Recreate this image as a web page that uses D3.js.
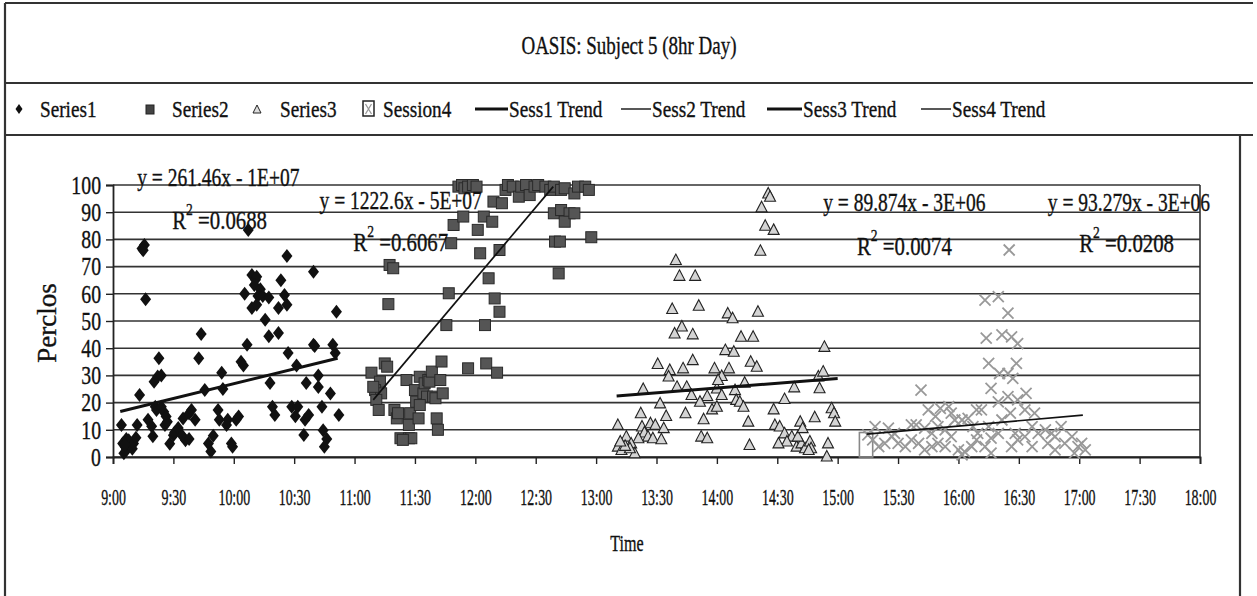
<!DOCTYPE html>
<html>
<head>
<meta charset="utf-8">
<script src="https://cdn.jsdelivr.net/npm/d3@7"></script>
<style>
body { margin: 0; background: #fff; }
svg text { font-family: "Liberation Serif", "Times New Roman", serif; fill: #111; stroke: #111; stroke-width: 0.35px; }
</style>
</head>
<body>
<script>
// values: [time in hours, perclos]
var session1 = [
  [9.07,11.8],[9.08,5],[9.10,3.8],[9.11,2.6],[9.09,1.4],[9.13,3.8],[9.11,6.6],[9.15,5],[9.13,6.2],
  [9.16,3],[9.17,5],[9.19,7.1],[9.10,4.5],[9.20,11.8],[9.22,22.8],[9.24,76.7],[9.26,77.9],[9.25,76],
  [9.27,58],[9.29,13.7],[9.32,11.3],[9.33,7.6],[9.34,27.7],[9.37,29.6],[9.40,30],[9.38,36.3],
  [9.35,18.5],[9.36,17.3],[9.40,18.5],[9.42,16.6],[9.43,11.8],[9.45,13],[9.44,14.9],[9.47,4.9],
  [9.50,8],[9.51,9],[9.54,10.7],[9.57,8],[9.60,6.2],[9.63,6.6],[9.58,14.2],[9.63,16],[9.68,13.7],
  [9.65,17.3],[9.73,45.2],[9.71,36.3],[9.76,24.6],[9.79,5],[9.81,2],[9.83,7.8],[9.87,17.3],[9.90,31],
  [9.91,25],[9.88,13.7],[9.94,11.8],[9.95,13.7],[9.98,5],[9.99,3.8],[10.02,13.7],[10.04,14.9],
  [10.06,35],[10.08,33.6],[10.11,41.3],[10.09,60],[10.12,83.5],[10.15,66.9],[10.18,65.2],[10.19,66.3],
  [10.17,63.2],[10.22,61.7],[10.20,59.2],[10.24,59.2],[10.29,58.6],[10.15,54.8],[10.19,56],[10.26,50.5],
  [10.29,44.4],[10.37,45.6],[10.30,27.2],[10.32,18.5],[10.34,15.4],[10.39,65],[10.44,73.9],[10.37,54.8],
  [10.42,59.6],[10.44,56],[10.45,38.2],[10.48,18.5],[10.51,15],[10.53,18.5],[10.52,33.6],[10.60,27.2],
  [10.66,41.3],[10.67,40.8],[10.66,68.1],[10.70,30],[10.70,25.7],[10.59,13.7],[10.62,15.4],[10.58,8.1],
  [10.73,18.5],[10.74,9.8],[10.77,6.6],[10.75,3.8],[10.80,23.3],[10.82,41.3],[10.84,38.2],[10.85,53.4],
  [10.87,15.4]
];
var session2 = [
  [11.14,31],[11.21,27.7],[11.17,24.6],[11.22,23.4],[11.18,21],[11.20,17.3],[11.155,25.8],[11.25,34.4],
  [11.27,33.2],[11.29,70.6],[11.32,69.4],[11.28,56.2],[11.33,17.3],[11.35,14.2],[11.36,16.1],[11.38,6.9],
  [11.45,6.9],[11.47,6.9],[11.40,6.3],[11.43,28.3],[11.45,11.8],[11.46,16.1],[11.50,24.6],[11.53,14.2],
  [11.51,20.3],[11.54,29.5],[11.57,23.4],[11.58,27.1],[11.60,22.2],[11.61,28.3],[11.62,27.7],[11.64,31.4],
  [11.65,22.2],[11.67,21.6],[11.71,28.3],[11.72,35.1],[11.73,23.4],[11.68,14.2],[11.69,10],[11.54,19.1],
  [11.76,48.5],[11.78,60.2],[11.80,78.6],[11.82,85.3],[11.90,88.4],[11.86,99.4],[11.89,100],[11.91,98.8],
  [11.94,99.4],[11.98,100],[12.01,99.4],[11.94,32.6],[12.02,83.5],[12.04,74.9],[12.07,88.4],[12.14,86.5],
  [12.15,93.9],[12.22,93.3],[12.20,76.1],[12.08,48.5],[12.09,34.4],[12.18,31],[12.11,65.7],[12.16,58.3],
  [12.20,53.4],[12.25,98.2],[12.27,100],[12.31,99.4],[12.36,95.7],[12.38,99.4],[12.42,100],[12.45,96.3],
  [12.49,99.4],[12.52,100],[12.58,99.4],[12.62,98.2],[12.65,99.4],[12.71,98.2],[12.74,98.8],[12.82,96.9],
  [12.85,99.4],[12.91,99.4],[12.94,98.2],[12.65,89.6],[12.71,90.8],[12.78,89.6],[12.74,86.5],[12.82,89.6],
  [12.66,79.2],[12.70,79.2],[12.69,67.5],[12.96,80.8]
];
var session3 = [
  [14.425,96.9],[14.44,95.7],[14.37,91.8],[14.40,85],[14.47,83.5],[14.36,75.8],[13.66,72.4],[13.69,66.6],
  [13.82,66.6],[13.63,54.4],[13.85,55.6],[14.09,52.8],[14.13,51],[14.34,53.4],[13.71,48],[13.65,45.4],
  [13.80,45.1],[14.20,44.2],[14.30,44.2],[14.07,39.3],[14.14,38.7],[14.89,40.5],[13.51,34.2],[13.61,32],
  [13.60,29.6],[13.72,32.6],[13.80,35.6],[13.98,32.6],[14.04,29.8],[14.10,32.6],[14.28,35],[14.33,33.2],
  [14.84,29.6],[14.88,31.4],[14.85,25.3],[13.39,25],[13.67,25.8],[13.75,25.8],[13.79,22.8],[13.92,22.4],
  [14.00,25.2],[14.04,22.8],[14.01,28.3],[14.15,24.6],[14.23,27.3],[13.86,20.3],[13.96,17.5],[14.00,18.5],
  [14.16,21],[14.19,20.3],[14.22,18.5],[14.64,25.6],[14.56,21.3],[14.47,17.5],[13.53,19.7],[13.37,16.1],
  [13.58,15.1],[13.74,16.1],[13.89,13.9],[14.26,13],[14.81,14.6],[14.95,17.9],[14.97,16.1],[14.98,13],
  [13.18,11.8],[13.38,11.2],[13.45,12.4],[13.49,11.8],[13.56,10.6],[13.40,9],[13.43,7.5],[13.47,6.9],
  [13.54,6.5],[13.35,6.9],[13.25,7.5],[13.29,5],[13.18,3.8],[13.21,2.6],[13.32,1.4],[13.28,3.2],
  [13.24,4.1],[13.20,5.7],[13.87,7.5],[13.92,6.9],[14.27,4.4],[14.48,11.8],[14.52,11.2],[14.56,8.7],
  [14.62,7.5],[14.58,5.7],[14.66,3.8],[14.70,5],[14.73,3.2],[14.67,7.5],[14.69,13],[14.77,5.7],
  [14.78,3.2],[14.71,10.6],[14.51,5],[14.92,5],[14.91,0.2],[14.76,2.6]
];
var session4 = [
  [16.42,76.1],[16.22,57.7],[16.33,59],[16.41,52.9],[16.23,43.7],[16.36,44.9],[16.44,44.2],[16.49,41.7],
  [16.25,34.4],[16.34,30.7],[16.41,30.7],[16.48,34.4],[16.45,28.9],[16.27,25.2],[16.56,23.4],[16.33,20.3],
  [15.69,24.6],[15.75,17.3],[15.85,17.9],[15.92,18.5],[15.94,16.1],[15.81,14.9],[15.97,13.6],[16.15,17.3],
  [16.19,17.3],[16.41,22.2],[16.49,21],[16.55,17.3],[16.63,16.1],[15.65,11.8],[15.72,10.6],[15.78,8.7],
  [15.83,11.2],[15.89,10],[16.03,13.6],[16.08,14.2],[16.12,11.2],[16.16,8.7],[16.25,11.2],[16.36,13.6],
  [16.43,16.1],[15.25,8.1],[15.29,6.3],[15.34,3.8],[15.39,5],[15.45,7.5],[15.50,5],[15.56,3.8],
  [15.61,6.3],[15.67,5],[15.72,2.6],[15.78,3.8],[15.83,5],[15.89,3.8],[15.94,7.5],[16.00,2.6],
  [16.03,0.8],[16.05,2],[16.11,3.8],[16.15,6.3],[16.22,3.8],[16.27,6.9],[16.33,8.7],[16.47,8.7],
  [16.49,6.3],[16.55,7.5],[16.61,11.2],[16.66,8.7],[16.72,10],[16.77,8.7],[16.80,7.5],[16.88,5],
  [16.94,7.5],[16.99,3.8],[17.05,2.6],[16.85,11.2],[16.74,5],[16.80,2.6],[16.96,1.4],[17.02,5],
  [16.61,3.8],[16.44,3.8],[16.27,1.4],[15.42,10.6],[15.31,11.2],[15.61,11.8],[15.47,8.7]
];
var session4Box = [15.18, 15.29, 0, 9];

var trend1 = [[9.06,16.7],[10.86,36.3]];
var trend2 = [[11.155,21],[12.645,99.4]];
var trend3 = [[13.17,22.4],[15.0,28.9]];
var trend4 = [[15.24,8.4],[17.03,15.4]];

var eqText = ["y = 261.46x - 1E+07", "y = 1222.6x - 5E+07", "y = 89.874x - 3E+06", "y = 93.279x - 3E+06"];
var r2Text = ["0.0688", "0.6067", "0.0074", "0.0208"];
var eqAt = [[9.2,99.6],[10.71,91.2],[14.88,90.4],[16.74,90.4]];
var r2At = [[9.49,83.8],[10.99,75.7],[15.16,74.3],[17.0,75.4]];

var xTicks = d3.range(9, 18.01, 0.5);
var yTicks = d3.range(0, 101, 10);
var legendNames = ["Series1","Series2","Series3","Session4","Sess1 Trend","Sess2 Trend","Sess3 Trend","Sess4 Trend"];

var W = 1257, H = 596;
var svg = d3.select("body").append("svg").attr("width", W).attr("height", H);

var x = d3.scaleLinear().domain([9, 18]).range([113, 1200]);
var y = d3.scaleLinear().domain([0, 100]).range([457, 185]);

// squeeze text horizontally like the narrow serif in the original
function squeeze(sel, k) {
  sel.each(function() {
    var n = this.getComputedTextLength();
    d3.select(this).attr("textLength", n * k).attr("lengthAdjust", "spacingAndGlyphs");
  });
}

// frame
var frame = svg.append("g").attr("stroke", "#333").attr("stroke-width", 2.2);
frame.append("line").attr("x1", 5).attr("x2", 1253).attr("y1", 3).attr("y2", 3);
frame.append("line").attr("x1", 5).attr("x2", 1253).attr("y1", 83).attr("y2", 83);
frame.append("line").attr("x1", 5).attr("x2", 1253).attr("y1", 135).attr("y2", 135);
frame.append("line").attr("x1", 5).attr("x2", 5).attr("y1", 3).attr("y2", 596);
frame.append("line").attr("x1", 1240).attr("x2", 1240).attr("y1", 135).attr("y2", 596);

// title
svg.append("text").attr("x", 629).attr("y", 54).attr("text-anchor", "middle")
  .style("font-size", "26px")
  .text("OASIS: Subject 5 (8hr Day)")
  .call(squeeze, 0.73);

// legend
var leg = svg.append("g");
var legX = [19, 150, 257, 368, 475, 621, 767, 921];
var legTextX = [40, 172, 280, 383, 509, 652, 803, 952];
var ly = 109;
leg.append("path").attr("d", "M0,-5L3.5,0L0,5L-3.5,0Z").attr("transform", `translate(${legX[0]},${ly})`).attr("fill", "#111");
leg.append("rect").attr("x", legX[1] - 4).attr("y", ly - 4).attr("width", 8).attr("height", 9).attr("fill", "#444").attr("stroke", "#222");
leg.append("path").attr("d", "M0,-4L4,4L-4,4Z").attr("transform", `translate(${legX[2]},${ly})`).attr("fill", "#ddd").attr("stroke", "#222");
leg.append("rect").attr("x", legX[3] - 5).attr("y", ly - 8).attr("width", 11).attr("height", 15).attr("fill", "#fff").attr("stroke", "#222").attr("stroke-width", 1.5);
leg.append("path").attr("d", "M-3,-5L3,5M3,-5L-3,5").attr("transform", `translate(${legX[3] + 0.5},${ly})`).attr("stroke", "#999").attr("stroke-width", 1.3);
[3, 1.4, 3, 1.4].forEach(function(sw, i) {
  leg.append("line").attr("x1", legX[4 + i]).attr("x2", legTextX[4 + i] - 1).attr("y1", ly).attr("y2", ly)
    .attr("stroke", "#111").attr("stroke-width", sw);
});
leg.selectAll("text.lg").data(legendNames).join("text").attr("class", "lg")
  .attr("x", (d, i) => legTextX[i]).attr("y", ly + 8)
  .style("font-size", "24px")
  .text(d => d)
  .call(squeeze, 0.8);

// gridlines
svg.append("g").selectAll("line").data(yTicks).join("line")
  .attr("x1", x(9)).attr("x2", x(18)).attr("y1", d => y(d)).attr("y2", d => y(d))
  .attr("stroke", "#333").attr("stroke-width", 1.6);
svg.append("line").attr("x1", x(18)).attr("x2", x(18)).attr("y1", y(100)).attr("y2", y(0))
  .attr("stroke", "#333").attr("stroke-width", 1.6);

// axes
var yAxis = svg.append("g").attr("transform", `translate(${x(9)},0)`)
  .call(d3.axisLeft(y).tickValues(yTicks).tickSize(7).tickPadding(5).tickFormat(d3.format("d")));
var xAxis = svg.append("g").attr("transform", `translate(0,${y(0)})`)
  .call(d3.axisBottom(x).tickValues(xTicks).tickSize(7).tickPadding(24)
    .tickFormat(h => Math.floor(h) + ":" + (h % 1 ? "30" : "00")));
[yAxis, xAxis].forEach(function(a) {
  a.select(".domain").attr("stroke", "#222").attr("stroke-width", 1.8);
  a.selectAll(".tick line").attr("stroke", "#222").attr("stroke-width", 1.4);
  a.selectAll("text").attr("fill", "#111").style("font-family", '"Liberation Serif", serif');
});
yAxis.selectAll("text").style("font-size", "26px").call(squeeze, 0.76);
xAxis.selectAll("text").style("font-size", "24px").call(squeeze, 0.58);

svg.append("text").attr("transform", "translate(56,323) rotate(-90)").attr("text-anchor", "middle")
  .style("font-size", "27px").text("Perclos");
svg.append("text").attr("x", 627).attr("y", 551).attr("text-anchor", "middle")
  .style("font-size", "24px").text("Time").call(squeeze, 0.67);

// points
var pts = svg.append("g");
pts.selectAll("path.s1").data(session1).join("path").attr("class", "s1")
  .attr("d", "M0,-7L5.5,0L0,7L-5.5,0Z")
  .attr("transform", d => `translate(${x(d[0])},${y(d[1])})`)
  .attr("fill", "#111");
pts.selectAll("rect.s2").data(session2).join("rect").attr("class", "s2")
  .attr("x", d => x(d[0]) - 5.5).attr("y", d => y(d[1]) - 5.5).attr("width", 11).attr("height", 11)
  .attr("fill", "#555").attr("stroke", "#2a2a2a").attr("stroke-width", 1);
pts.selectAll("path.s3").data(session3).join("path").attr("class", "s3")
  .attr("d", "M0,-6L5.5,4.5L-5.5,4.5Z")
  .attr("transform", d => `translate(${x(d[0])},${y(d[1])})`)
  .attr("fill", "#d4d4d4").attr("stroke", "#222").attr("stroke-width", 1.1);
pts.append("rect")
  .attr("x", x(session4Box[0])).attr("y", y(session4Box[3]))
  .attr("width", x(session4Box[1]) - x(session4Box[0])).attr("height", y(session4Box[2]) - y(session4Box[3]))
  .attr("fill", "none").attr("stroke", "#888").attr("stroke-width", 1.6);
pts.selectAll("path.s4").data(session4).join("path").attr("class", "s4")
  .attr("d", "M-5.5,-5.5L5.5,5.5M5.5,-5.5L-5.5,5.5")
  .attr("transform", d => `translate(${x(d[0])},${y(d[1])})`)
  .attr("stroke", "#999").attr("stroke-width", 1.8).attr("fill", "none");

// trend lines
var line = d3.line().x(d => x(d[0])).y(d => y(d[1]));
[[trend1, 3], [trend2, 1.7], [trend3, 3], [trend4, 1.7]].forEach(function(t) {
  svg.append("path").attr("d", line(t[0])).attr("stroke", "#111").attr("stroke-width", t[1]).attr("fill", "none");
});

// equation labels
var ann = svg.append("g").style("font-size", "26px");
eqText.forEach(function(t, i) {
  ann.append("text").attr("x", x(eqAt[i][0])).attr("y", y(eqAt[i][1])).text(t).call(squeeze, 0.75);
  var r = ann.append("text").attr("x", x(r2At[i][0])).attr("y", y(r2At[i][1]));
  r.append("tspan").text("R");
  r.append("tspan").attr("dy", -14).style("font-size", "17px").text("2");
  r.append("tspan").attr("dy", 14).text(" =" + r2Text[i]);
  r.call(squeeze, 0.8);
});
</script>
</body>
</html>
